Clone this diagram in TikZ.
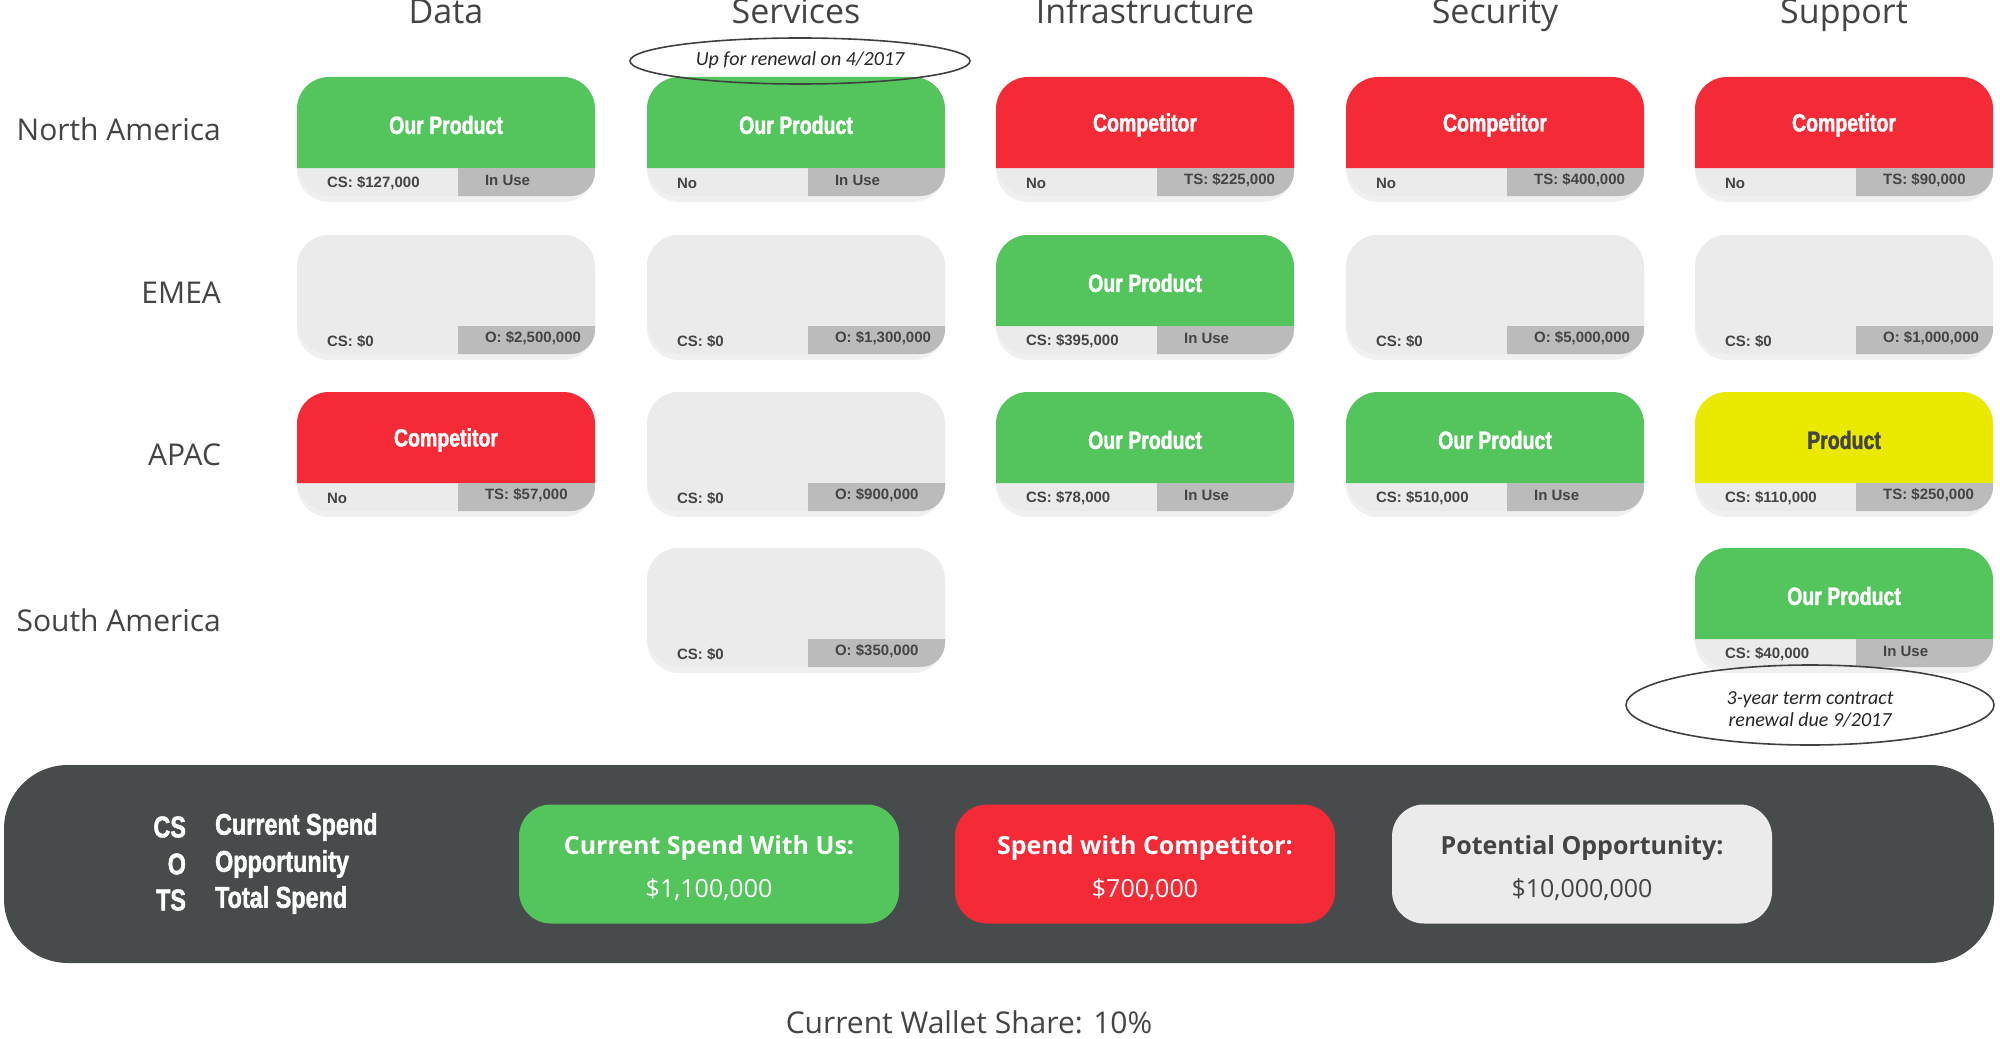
\documentclass[tikz,border=0pt]{standalone}
\usepackage{fontspec}
\setmainfont{Open Sans}
\newfontfamily\cond[FakeStretch=0.78, FakeBold=1.5]{Liberation Sans}
\newfontfamily\arial{Liberation Sans}
\newfontfamily\hand{Carlito}
\usetikzlibrary{shadows}
\definecolor{cgreen}{HTML}{54C45C}
\definecolor{cred}{HTML}{F42A37}
\definecolor{cyellow}{HTML}{EAEA00}
\definecolor{clight}{HTML}{EBEBEB}
\definecolor{cdark}{HTML}{BBBBBB}
\definecolor{cpanel}{HTML}{474B4C}
\definecolor{ctext}{HTML}{444444}
\tikzset{
  head/.style={font=\fontsize{17}{20}\selectfont\color{ctext}, anchor=base},
  rowlab/.style={font=\fontsize{15}{18}\selectfont\color{ctext}, anchor=east},
  ctitle/.style={font=\cond\bfseries\fontsize{12.5}{14}\selectfont},
  bartext/.style={font=\arial\bfseries\fontsize{7.5}{9}\selectfont\color{ctext}, anchor=west},
  legend/.style={font=\cond\bfseries\fontsize{15}{17}\selectfont\color{white}},
  sumbox/.style={rounded corners=16, minimum width=190pt, minimum height=59.5pt},
  note/.style={font=\hand\itshape\fontsize{10}{11}\selectfont\color{black!85}, align=center},
}
\newcommand{\card}[9]{% name, cx, top, color, title, left, right, titlecolor
  \pgfmathsetmacro{\L}{#2-149}\pgfmathsetmacro{\R}{#2+149}
  \pgfmathsetmacro{\M}{#3+91}\pgfmathsetmacro{\B}{#3+119}\pgfmathsetmacro{\S}{#2-149+161}
  \fill[clight, rounded corners=16, drop shadow={opacity=0.12, shadow xshift=0pt, shadow yshift=-3pt}] (\L,#3) rectangle (\R,\B);
  \fill[#4] (\L,\M) [rounded corners=16] -- (\L,#3) -- (\R,#3) [sharp corners] -- (\R,\M) -- cycle;
  \fill[cdark] (\S,\M) -- (\R,\M) [rounded corners=12] -- (\R,\B) [sharp corners] -- (\S,\B) -- cycle;
  \node[ctitle, text=#8] (#1t) at (#2,#3+48) {#5};
  \node[bartext] (#1l) at (\L+23,#3+106) {#6};
  \node[bartext] (#1r) at (\S+20,#3+103) {#7};
}
\begin{document}
\begin{tikzpicture}[x=0.5pt,y=-0.5pt]
\useasboundingbox (0,0) rectangle (2000,1038);
\foreach \n/\x/\t in {hd/446/Data, hs/796/Services, hi/1145/Infrastructure, hse/1495/Security, hsu/1844/Support}
  \node[head] (\n) at (\x,24) {\t};
\node[rowlab] (rna) at (228,129) {North America};
\node[rowlab] (rem) at (228,293) {EMEA};
\node[rowlab] (rap) at (228,455) {APAC};
\node[rowlab] (rsa) at (228,620) {South America};
% row 1
\card{a1}{446}{77}{cgreen}{Our Product}{CS: \$127,000}{In Use}{white}{}
\card{a2}{796}{77}{cgreen}{Our Product}{No}{In Use}{white}{}
\card{a3}{1145}{77}{cred}{Competitor}{No}{TS: \$225,000}{white}{}
\card{a4}{1495}{77}{cred}{Competitor}{No}{TS: \$400,000}{white}{}
\card{a5}{1844}{77}{cred}{Competitor}{No}{TS: \$90,000}{white}{}
% row 2
\card{b1}{446}{235}{clight}{}{CS: \$0}{O: \$2,500,000}{white}{}
\card{b2}{796}{235}{clight}{}{CS: \$0}{O: \$1,300,000}{white}{}
\card{b3}{1145}{235}{cgreen}{Our Product}{CS: \$395,000}{In Use}{white}{}
\card{b4}{1495}{235}{clight}{}{CS: \$0}{O: \$5,000,000}{white}{}
\card{b5}{1844}{235}{clight}{}{CS: \$0}{O: \$1,000,000}{white}{}
% row 3
\card{c1}{446}{392}{cred}{Competitor}{No}{TS: \$57,000}{white}{}
\card{c2}{796}{392}{clight}{}{CS: \$0}{O: \$900,000}{white}{}
\card{c3}{1145}{392}{cgreen}{Our Product}{CS: \$78,000}{In Use}{white}{}
\card{c4}{1495}{392}{cgreen}{Our Product}{CS: \$510,000}{In Use}{white}{}
\card{c5}{1844}{392}{cyellow}{Product}{CS: \$110,000}{TS: \$250,000}{ctext}{}
% row 4
\card{d2}{796}{548}{clight}{}{CS: \$0}{O: \$350,000}{white}{}
\card{d5}{1844}{548}{cgreen}{Our Product}{CS: \$40,000}{In Use}{white}{}
% annotations
\draw[black!75, line width=0.8pt] (800,61) ellipse [x radius=170, y radius=23];
\node[note] (n1) at (800,60) {Up for renewal on 4/2017};
\draw[black!75, line width=0.8pt] (1810,705) ellipse [x radius=184, y radius=40];
\node[note] (n2) at (1810,709) {3-year term contract\\renewal due 9/2017};
% panel
\fill[cpanel, rounded corners=32] (4,765) rectangle (1994,963);
\node[legend, anchor=east] (l1) at (193,827) {CS};
\node[legend, anchor=east] (l2) at (193,864) {O};
\node[legend, anchor=east] (l3) at (193,900) {TS};
\node[legend, anchor=west] (m1) at (208,827) {Current Spend};
\node[legend, anchor=west] (m2) at (208,864) {Opportunity};
\node[legend, anchor=west] (m3) at (208,900) {Total Spend};
\node[sumbox, fill=cgreen] (s1) at (709,864) {};
\node[sumbox, fill=cred] (s2) at (1145,864) {};
\node[sumbox, fill=clight, drop shadow={opacity=0.25, shadow xshift=0pt, shadow yshift=0pt}] (s3) at (1582,864) {};
\foreach \n/\x/\c/\t/\v in {s1/709/white/Current Spend With Us:/\$1{,}100{,}000, s2/1145/white/Spend with Competitor:/\$700{,}000, s3/1582/ctext/Potential Opportunity:/\$10{,}000{,}000}{
  \node[font=\bfseries\fontsize{12.5}{14}\selectfont, text=\c] (\n a) at (\x,848) {\t};
  \node[font=\fontsize{12.5}{14}\selectfont, text=\c] (\n b) at (\x,890) {\v};
}
\node[font=\fontsize{15}{18}\selectfont, text=ctext] (ws) at (969,1022) {Current Wallet Share: 10\%};
\end{tikzpicture}
\end{document}
